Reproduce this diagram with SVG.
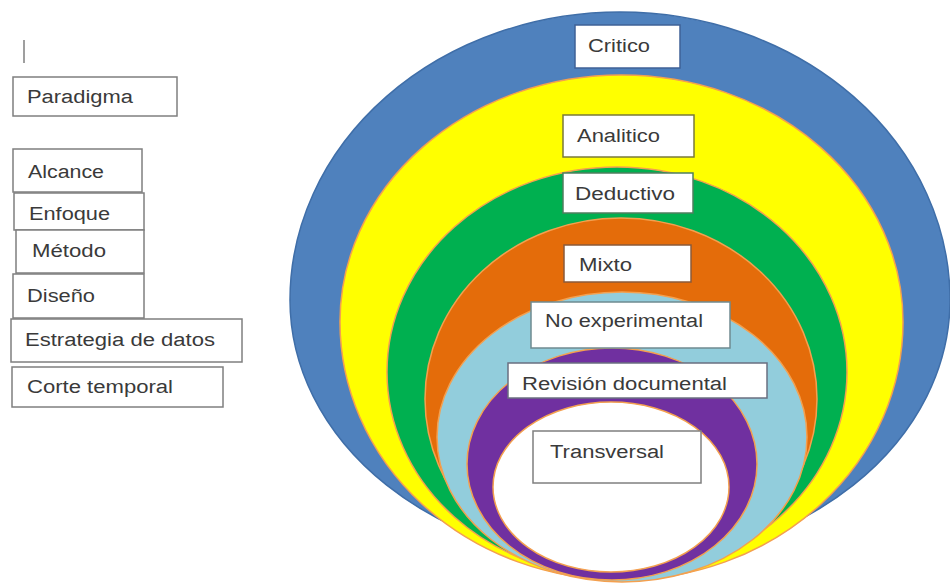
<svg xmlns="http://www.w3.org/2000/svg" width="950" height="584" viewBox="0 0 950 584">
<style>
.box{fill:#ffffff;stroke:#7f7f7f;stroke-width:1.5}
.lbl{font-family:"Liberation Sans",Arial,sans-serif;font-size:18px;fill:#3a3a3a}
.ring{stroke:#f4a04f;stroke-width:1.5}
</style>
<rect width="950" height="584" fill="#ffffff"/>
<g id="rings">
  <g id="ring-critico"><path d="M290,300 A330,288 0 0 1 950,300 A330,262 0 0 1 290,300 Z" fill="#4f81bd" stroke="#3f6ea8" stroke-width="1.5"/></g>
  <g id="ring-analitico"><path d="M340,322 A281.5,247 0 0 1 903,322 A281.5,258 0 0 1 340,322 Z" class="ring" fill="#ffff00"/></g>
  <g id="ring-deductivo"><ellipse cx="617" cy="372" rx="230" ry="205" class="ring" fill="#00b050"/></g>
  <g id="ring-mixto"><ellipse cx="621" cy="399" rx="196" ry="181" class="ring" fill="#e46c0a"/></g>
  <g id="ring-noexp"><ellipse cx="622" cy="437" rx="185" ry="145" class="ring" fill="#92cddc"/></g>
  <g id="ring-revision"><ellipse cx="612" cy="464" rx="145" ry="116" class="ring" fill="#7030a0"/></g>
  <g id="ring-transversal"><ellipse cx="611" cy="487" rx="118" ry="85" class="ring" fill="#ffffff"/></g>
</g>
<line x1="24" y1="40" x2="24" y2="63" stroke="#7f7f7f" stroke-width="1.5"/>
<g id="paradigma"><rect class="box" x="13" y="77" width="164" height="39"/><text class="lbl" x="27" y="103" textLength="106" lengthAdjust="spacingAndGlyphs">Paradigma</text></g>
<g id="alcance"><rect class="box" x="13" y="149" width="129" height="43"/><text class="lbl" x="28" y="178" textLength="76" lengthAdjust="spacingAndGlyphs">Alcance</text></g>
<g id="enfoque"><rect class="box" x="14" y="193" width="130" height="37"/><text class="lbl" x="29" y="220" textLength="81" lengthAdjust="spacingAndGlyphs">Enfoque</text></g>
<g id="metodo"><rect class="box" x="16" y="230" width="128" height="43"/><text class="lbl" x="32" y="257" textLength="74" lengthAdjust="spacingAndGlyphs">Método</text></g>
<g id="diseno"><rect class="box" x="13" y="274" width="131" height="44"/><text class="lbl" x="27" y="302" textLength="68" lengthAdjust="spacingAndGlyphs">Diseño</text></g>
<g id="estrategia"><rect class="box" x="11" y="319" width="231" height="43"/><text class="lbl" x="25" y="346" textLength="190" lengthAdjust="spacingAndGlyphs">Estrategia de datos</text></g>
<g id="corte"><rect class="box" x="12" y="367" width="211" height="40"/><text class="lbl" x="27" y="393" textLength="146" lengthAdjust="spacingAndGlyphs">Corte temporal</text></g>
<g id="critico"><rect class="box" x="575" y="25" width="105" height="43" style="stroke:#3f6197"/><text class="lbl" x="588" y="52" textLength="62" lengthAdjust="spacingAndGlyphs">Critico</text></g>
<g id="analitico"><rect class="box" x="563" y="115" width="131" height="42" style="stroke:#7a7a3a"/><text class="lbl" x="577" y="142" textLength="83" lengthAdjust="spacingAndGlyphs">Analitico</text></g>
<g id="deductivo"><rect class="box" x="563" y="173" width="130" height="40" style="stroke:#4f7f5f"/><text class="lbl" x="575" y="200" textLength="100" lengthAdjust="spacingAndGlyphs">Deductivo</text></g>
<g id="mixto"><rect class="box" x="564" y="245" width="127" height="37" style="stroke:#8a5a3a"/><text class="lbl" x="579" y="271" textLength="53" lengthAdjust="spacingAndGlyphs">Mixto</text></g>
<g id="noexperimental"><rect class="box" x="531" y="302" width="199" height="46" style="stroke:#6f8a90"/><text class="lbl" x="545" y="327" textLength="158" lengthAdjust="spacingAndGlyphs">No experimental</text></g>
<g id="revision"><rect class="box" x="508" y="363" width="259" height="35" style="stroke:#6a6f80"/><text class="lbl" x="522" y="390" textLength="205" lengthAdjust="spacingAndGlyphs">Revisión documental</text></g>
<g id="transversal"><rect class="box" x="533" y="431" width="168" height="52"/><text class="lbl" x="550" y="458" textLength="114" lengthAdjust="spacingAndGlyphs">Transversal</text></g>
</svg>
